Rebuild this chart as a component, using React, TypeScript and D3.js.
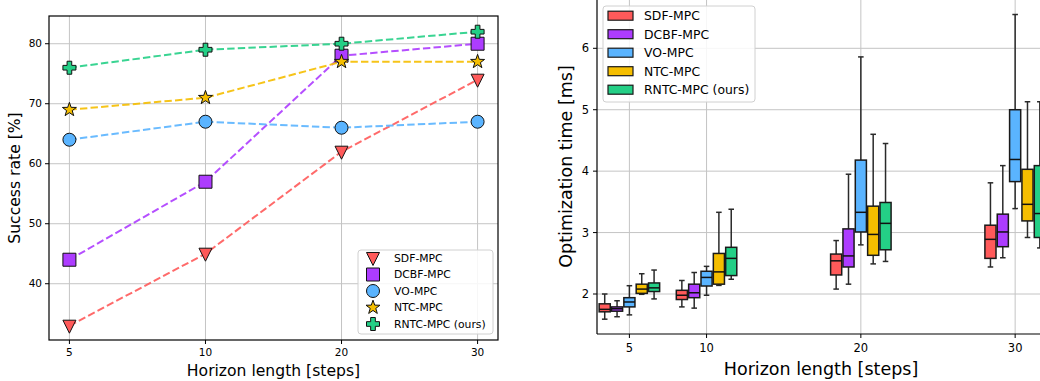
import React, { useEffect, useRef } from "react";
import * as d3 from "d3";

const horizons = [5, 10, 20, 30];
const methods = ["SDF-MPC", "DCBF-MPC", "VO-MPC", "NTC-MPC", "RNTC-MPC (ours)"];
const colors = ["#ff5a5a", "#ad3cff", "#5ab4ff", "#f5be00", "#24cf86"];
const markers = ["triangle", "square", "circle", "star", "plus"];

// success rate [%] per horizon
const successSDF = [33, 45, 62, 74];
const successDCBF = [44, 57, 78, 80];
const successVO = [64, 67, 66, 67];
const successNTC = [69, 71, 77, 77];
const successRNTC = [76, 79, 80, 82];

// optimization time [ms]: [whisker low, q1, median, q3, whisker high] per horizon
const timesSDF = [[1.59, 1.71, 1.75, 1.84, 2.0], [1.79, 1.91, 1.98, 2.06, 2.22], [2.08, 2.31, 2.54, 2.65, 2.87], [2.44, 2.58, 2.89, 3.12, 3.81]];
const timesDCBF = [[1.63, 1.72, 1.76, 1.79, 1.89], [1.77, 1.94, 2.02, 2.16, 2.35], [2.16, 2.44, 2.62, 3.06, 3.95], [2.59, 2.77, 3.01, 3.3, 4.09]];
const timesVO = [[1.66, 1.79, 1.87, 1.94, 2.135], [1.98, 2.13, 2.27, 2.37, 2.45], [2.8, 3.01, 3.33, 4.18, 5.86], [3.39, 3.83, 4.19, 5.0, 6.55]];
const timesNTC = [[1.995, 2.01, 2.08, 2.16, 2.33], [2.14, 2.16, 2.36, 2.66, 3.33], [2.49, 2.63, 2.97, 3.43, 4.6], [2.92, 3.19, 3.46, 4.03, 5.13]];
const timesRNTC = [[1.92, 2.04, 2.1, 2.18, 2.39], [2.24, 2.3, 2.58, 2.76, 3.38], [2.53, 2.72, 3.15, 3.49, 4.45], [2.75, 2.92, 3.31, 4.09, 5.13]];

const successTicks = [40, 50, 60, 70, 80];
const timeTicks = [2, 3, 4, 5, 6];

const successData = [successSDF, successDCBF, successVO, successNTC, successRNTC];
const timeData = [timesSDF, timesDCBF, timesVO, timesNTC, timesRNTC];

const FONT = "DejaVu Sans, sans-serif";

const markerPath = (type: string, s: number) => {
  const h = s / 2;
  if (type === "triangle") {
    return `M${-h},${-h * 0.85}L${h},${-h * 0.85}L0,${h * 1.15}Z`;
  }
  if (type === "square") return `M${-h},${-h}H${h}V${h}H${-h}Z`;
  if (type === "circle") return d3.symbol(d3.symbolCircle, Math.PI * h * h)() as string;
  if (type === "star") {
    const pts: string[] = [];
    for (let i = 0; i < 10; i++) {
      const r = i % 2 === 0 ? h * 1.05 : h * 0.42;
      const a = -Math.PI / 2 + (i * Math.PI) / 5;
      pts.push(`${r * Math.cos(a)},${r * Math.sin(a)}`);
    }
    return "M" + pts.join("L") + "Z";
  }
  // filled plus
  const w = h * 0.36;
  return `M${-w},${-h}H${w}V${-w}H${h}V${w}H${w}V${h}H${-w}V${w}H${-h}V${-w}H${-w}Z`;
};

const App = () => {
  const svgRef = useRef<SVGSVGElement>(null);

  useEffect(() => {
    const svg = d3.select(svgRef.current);
    svg.selectAll("*").remove();

    // ---------- left: success rate ----------
    const L = { left: 49, right: 498, top: 16, bottom: 340 };
    const x1 = d3.scalePoint<number>().domain(horizons).range([L.left, L.right]).padding(0.15);
    const y1 = d3.scaleLinear().domain([30.62, 84.62]).range([L.bottom, L.top]);

    const g1 = svg.append("g");
    const grid1 = g1.append("g").attr("stroke", "#c4c4c4").attr("stroke-width", 1);
    successTicks.forEach((t) => {
      grid1.append("line").attr("x1", L.left).attr("x2", L.right).attr("y1", y1(t)).attr("y2", y1(t));
    });
    horizons.forEach((h) => {
      grid1.append("line").attr("x1", x1(h)!).attr("x2", x1(h)!).attr("y1", L.top).attr("y2", L.bottom);
    });

    const line = d3
      .line<number>()
      .x((_, i) => x1(horizons[i])!)
      .y((d) => y1(d));

    successData.forEach((series, k) => {
      g1.append("path")
        .attr("d", line(series))
        .attr("fill", "none")
        .attr("stroke", colors[k])
        .attr("stroke-opacity", 0.9)
        .attr("stroke-width", 2)
        .attr("stroke-dasharray", "7.4,3.2");
      series.forEach((v, i) => {
        g1.append("path")
          .attr("d", markerPath(markers[k], markers[k] === "star" ? 14 : 13))
          .attr("transform", `translate(${x1(horizons[i])},${y1(v)})`)
          .attr("fill", colors[k])
          .attr("stroke", "#111")
          .attr("stroke-width", 1);
      });
    });

    g1.append("rect")
      .attr("x", L.left).attr("y", L.top)
      .attr("width", L.right - L.left).attr("height", L.bottom - L.top)
      .attr("fill", "none").attr("stroke", "#000").attr("stroke-width", 1.2);

    successTicks.forEach((t) => {
      g1.append("line").attr("x1", L.left - 4).attr("x2", L.left).attr("y1", y1(t)).attr("y2", y1(t)).attr("stroke", "#000");
      g1.append("text").attr("x", L.left - 7).attr("y", y1(t)).attr("dy", "0.35em")
        .attr("text-anchor", "end").attr("font-size", 10.5).attr("font-family", FONT).text(t);
    });
    horizons.forEach((h) => {
      g1.append("line").attr("x1", x1(h)!).attr("x2", x1(h)!).attr("y1", L.bottom).attr("y2", L.bottom + 4).attr("stroke", "#000");
      g1.append("text").attr("x", x1(h)!).attr("y", L.bottom + 16)
        .attr("text-anchor", "middle").attr("font-size", 10.5).attr("font-family", FONT).text(h);
    });
    g1.append("text").attr("x", (L.left + L.right) / 2).attr("y", 376)
      .attr("text-anchor", "middle").attr("font-size", 15.6).attr("font-family", FONT).text("Horizon length [steps]");
    g1.append("text").attr("transform", `translate(20,${(L.top + L.bottom) / 2}) rotate(-90)`)
      .attr("text-anchor", "middle").attr("font-size", 15.6).attr("font-family", FONT).text("Success rate [%]");

    const lg1 = g1.append("g");
    lg1.append("rect").attr("x", 358).attr("y", 250).attr("width", 135).attr("height", 84).attr("rx", 3)
      .attr("fill", "#fff").attr("fill-opacity", 0.85).attr("stroke", "#d0d0d0");
    methods.forEach((m, k) => {
      const yy = 258 + k * 16.5;
      lg1.append("path").attr("d", markerPath(markers[k], markers[k] === "star" ? 14 : 13))
        .attr("transform", `translate(373,${yy})`)
        .attr("fill", colors[k]).attr("stroke", "#111").attr("stroke-width", 1);
      lg1.append("text").attr("x", 394).attr("y", yy).attr("dy", "0.35em")
        .attr("font-size", 10.8).attr("font-family", FONT).text(m);
    });

    // ---------- right: optimization time ----------
    const R = { left: 597, right: 1046, top: -6, bottom: 334 };
    const x2 = d3.scaleLinear().domain([2.9, 32.0]).range([R.left, R.right]);
    const y2 = d3.scaleLinear().domain([2, 6]).range([294, 48.3]);
    const offsets = [-1.6, -0.8, 0, 0.8, 1.6];
    const boxW = 0.72;

    const g2 = svg.append("g");
    const grid2 = g2.append("g").attr("stroke", "#c4c4c4").attr("stroke-width", 1);
    timeTicks.forEach((t) => {
      grid2.append("line").attr("x1", R.left).attr("x2", R.right).attr("y1", y2(t)).attr("y2", y2(t));
    });
    horizons.forEach((h) => {
      grid2.append("line").attr("x1", x2(h)).attr("x2", x2(h)).attr("y1", R.top).attr("y2", R.bottom);
    });

    timeData.forEach((series, k) => {
      series.forEach((s, i) => {
        const [lo, q1, med, q3, hi] = s;
        const cx = x2(horizons[i] + offsets[k]);
        const bw = x2(boxW) - x2(0);
        const cw = bw / 2;
        const wg = g2.append("g").attr("stroke", "#2a2a2a").attr("stroke-width", 1.5);
        wg.append("line").attr("x1", cx).attr("x2", cx).attr("y1", y2(q3)).attr("y2", y2(hi));
        wg.append("line").attr("x1", cx).attr("x2", cx).attr("y1", y2(q1)).attr("y2", y2(lo));
        wg.append("line").attr("x1", cx - cw / 2).attr("x2", cx + cw / 2).attr("y1", y2(hi)).attr("y2", y2(hi));
        wg.append("line").attr("x1", cx - cw / 2).attr("x2", cx + cw / 2).attr("y1", y2(lo)).attr("y2", y2(lo));
        g2.append("rect")
          .attr("x", cx - bw / 2).attr("y", y2(q3))
          .attr("width", bw).attr("height", y2(q1) - y2(q3))
          .attr("fill", colors[k]).attr("stroke", "#1a1a1a").attr("stroke-width", 1.5);
        g2.append("line").attr("x1", cx - bw / 2).attr("x2", cx + bw / 2)
          .attr("y1", y2(med)).attr("y2", y2(med)).attr("stroke", "#111").attr("stroke-width", 1.5);
      });
    });

    g2.append("line").attr("x1", R.left).attr("x2", R.left).attr("y1", R.top).attr("y2", R.bottom).attr("stroke", "#000").attr("stroke-width", 1.2);
    g2.append("line").attr("x1", R.left).attr("x2", R.right).attr("y1", R.bottom).attr("y2", R.bottom).attr("stroke", "#000").attr("stroke-width", 1.2);

    timeTicks.forEach((t) => {
      g2.append("line").attr("x1", R.left - 4).attr("x2", R.left).attr("y1", y2(t)).attr("y2", y2(t)).attr("stroke", "#000");
      g2.append("text").attr("x", R.left - 8).attr("y", y2(t)).attr("dy", "0.35em")
        .attr("text-anchor", "end").attr("font-size", 11.5).attr("font-family", FONT).text(t);
    });
    horizons.forEach((h) => {
      g2.append("line").attr("x1", x2(h)).attr("x2", x2(h)).attr("y1", R.bottom).attr("y2", R.bottom + 4).attr("stroke", "#000");
      g2.append("text").attr("x", x2(h)).attr("y", R.bottom + 18)
        .attr("text-anchor", "middle").attr("font-size", 11.5).attr("font-family", FONT).text(h);
    });
    g2.append("text").attr("x", 821).attr("y", 375)
      .attr("text-anchor", "middle").attr("font-size", 17.5).attr("font-family", FONT).text("Horizon length [steps]");
    g2.append("text").attr("transform", `translate(572,166.5) rotate(-90)`)
      .attr("text-anchor", "middle").attr("font-size", 17.5).attr("font-family", FONT).text("Optimization time [ms]");

    const lg2 = g2.append("g");
    lg2.append("rect").attr("x", 603).attr("y", 6).attr("width", 152).attr("height", 96).attr("rx", 3)
      .attr("fill", "#fff").attr("fill-opacity", 0.85).attr("stroke", "#d0d0d0");
    methods.forEach((m, k) => {
      const yy = 15.7 + k * 18.5;
      lg2.append("rect").attr("x", 608).attr("y", yy - 4.5).attr("width", 25).attr("height", 9)
        .attr("fill", colors[k]).attr("stroke", "#1a1a1a").attr("stroke-width", 1.2);
      lg2.append("text").attr("x", 644).attr("y", yy).attr("dy", "0.35em")
        .attr("font-size", 12.4).attr("font-family", FONT).text(m);
    });
  }, []);

  return (
    <svg
      ref={svgRef}
      width={1040}
      height={381}
      style={{ position: "absolute", left: 0, top: 0, background: "#fff" }}
    />
  );
};

export default App;
